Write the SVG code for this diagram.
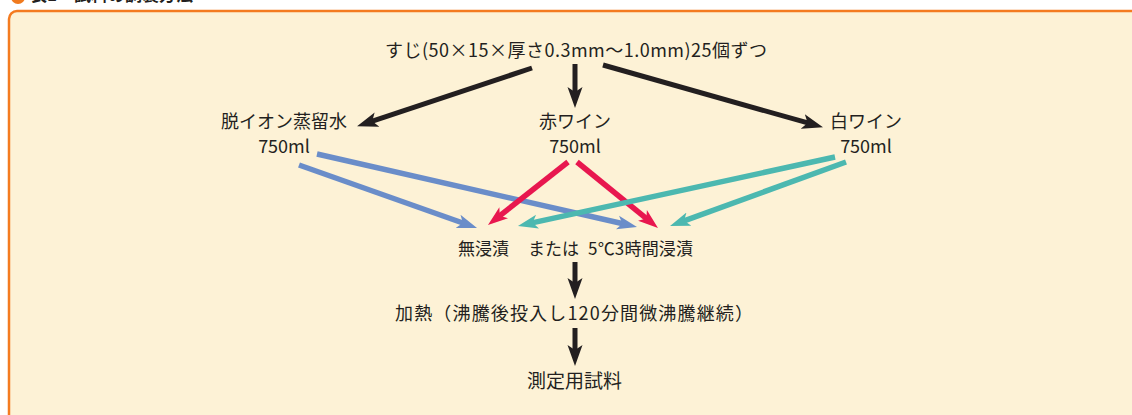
<svg xmlns="http://www.w3.org/2000/svg" width="1132" height="415" viewBox="0 0 1132 415">
  <style>
    .t { font-family: "Noto Sans CJK JP", "Liberation Sans", sans-serif; fill: #231f20; font-size: 18px; }
    .m { text-anchor: middle; }
    .blk { stroke: #231f20; stroke-width: 5; fill: none; }
    .blu { stroke: #6a8dc9; stroke-width: 5.5; fill: none; }
    .red { stroke: #e8174f; stroke-width: 5.5; fill: none; }
    .tea { stroke: #4cb8b0; stroke-width: 5.5; fill: none; }
  </style>
  <defs>
    <marker id="mBlk" markerUnits="userSpaceOnUse" markerWidth="22" markerHeight="18" refX="8" refY="9" orient="auto"><path d="M0,1.5 L21,9 L0,16.5 L5,9 Z" fill="#231f20"/></marker>
    <marker id="mBlu" markerUnits="userSpaceOnUse" markerWidth="22" markerHeight="16" refX="8" refY="8" orient="auto"><path d="M0,1 L20,8 L0,15 L5,8 Z" fill="#6a8dc9"/></marker>
    <marker id="mRed" markerUnits="userSpaceOnUse" markerWidth="22" markerHeight="16" refX="8" refY="8" orient="auto"><path d="M0,1 L20,8 L0,15 L5,8 Z" fill="#e8174f"/></marker>
    <marker id="mTea" markerUnits="userSpaceOnUse" markerWidth="22" markerHeight="16" refX="8" refY="8" orient="auto"><path d="M0,1 L20,8 L0,15 L5,8 Z" fill="#4cb8b0"/></marker>
  </defs>
  <rect x="0" y="0" width="1132" height="415" fill="#ffffff"/>
  <g id="title">
    <circle cx="18" cy="-3" r="7" fill="#f07a1e"/>
    <text x="30" y="1" class="t" style="font-weight:bold;font-size:17px">表1　試料の調製方法</text>
  </g>
  <rect id="panel" x="9" y="11" width="1140" height="420" rx="8" fill="#fdf2d6" stroke="#f47b20" stroke-width="2.5"/>

  <g id="connectors">
    <line class="blk" x1="575" y1="64" x2="575" y2="95" marker-end="url(#mBlk)"/>
    <line class="blk" x1="532" y1="68" x2="369.4" y2="122.2" marker-end="url(#mBlk)"/>
    <line class="blk" x1="603" y1="65" x2="810.5" y2="123.7" marker-end="url(#mBlk)"/>
    <line class="blu" x1="299" y1="165" x2="465.7" y2="224" marker-end="url(#mBlu)"/>
    <line class="blu" x1="317" y1="154" x2="625.3" y2="224.3" marker-end="url(#mBlu)"/>
    <line class="red" x1="568" y1="162" x2="497.4" y2="217.6" marker-end="url(#mRed)"/>
    <line class="red" x1="577" y1="162" x2="648.7" y2="220.4" marker-end="url(#mRed)"/>
    <line class="tea" x1="835" y1="157" x2="529.7" y2="223.4" marker-end="url(#mTea)"/>
    <line class="tea" x1="846" y1="162" x2="681.3" y2="221.9" marker-end="url(#mTea)"/>
    <line class="blk" x1="575" y1="262" x2="575" y2="286" marker-end="url(#mBlk)"/>
    <line class="blk" x1="575" y1="328" x2="575" y2="353" marker-end="url(#mBlk)"/>
  </g>

  <g id="node-source">
    <text x="385" y="57" class="t" textLength="382">すじ(50×15×厚さ0.3mm〜1.0mm)25個ずつ</text>
  </g>
  <g id="node-water">
    <text x="284" y="128" class="t m">脱イオン蒸留水</text>
    <text x="284" y="153" class="t m">750ml</text>
  </g>
  <g id="node-red">
    <text x="575" y="128" class="t m">赤ワイン</text>
    <text x="575" y="153" class="t m">750ml</text>
  </g>
  <g id="node-white">
    <text x="866" y="128" class="t m">白ワイン</text>
    <text x="866" y="153" class="t m">750ml</text>
  </g>
  <g id="node-soak">
    <text x="458" y="255" class="t" style="font-size:17px">無浸漬</text>
    <text x="528" y="255" class="t" style="font-size:17px">または</text>
    <text x="588" y="255" class="t" style="font-size:17px" textLength="105">5℃3時間浸漬</text>
  </g>
  <g id="node-heat">
    <text x="395" y="320" class="t" textLength="358">加熱（沸騰後投入し120分間微沸騰継続）</text>
  </g>
  <g id="node-sample">
    <text x="527" y="388" class="t" style="font-size:19px">測定用試料</text>
  </g>
</svg>
